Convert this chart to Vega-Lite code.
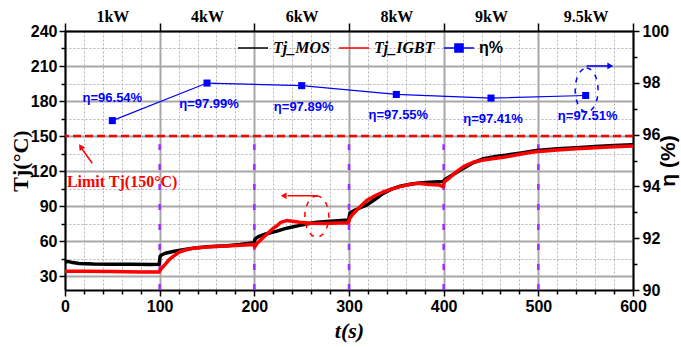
{
  "$schema": "https://vega.github.io/schema/vega-lite/v6.json",
  "width": 568,
  "height": 259,
  "autosize": {"type": "none"},
  "padding": {"left": 65, "top": 31, "right": 48, "bottom": 57},
  "background": "white",
  "config": {"view": {"stroke": null}},
  "datasets": {
    "temps": [
      {"t": 0, "s": "Tj_MOS", "v": 42}, {"t": 3, "s": "Tj_MOS", "v": 42.5}, {"t": 8, "s": "Tj_MOS", "v": 41.5}, {"t": 15, "s": "Tj_MOS", "v": 40.8}, {"t": 30, "s": "Tj_MOS", "v": 40.3}, {"t": 50, "s": "Tj_MOS", "v": 40}, {"t": 70, "s": "Tj_MOS", "v": 40}, {"t": 90, "s": "Tj_MOS", "v": 39.8}, {"t": 99.5, "s": "Tj_MOS", "v": 40},
      {"t": 100.5, "s": "Tj_MOS", "v": 47}, {"t": 102, "s": "Tj_MOS", "v": 48}, {"t": 106, "s": "Tj_MOS", "v": 49.5}, {"t": 114, "s": "Tj_MOS", "v": 51}, {"t": 125, "s": "Tj_MOS", "v": 52.5}, {"t": 135, "s": "Tj_MOS", "v": 53.7}, {"t": 150, "s": "Tj_MOS", "v": 55}, {"t": 171, "s": "Tj_MOS", "v": 56}, {"t": 185, "s": "Tj_MOS", "v": 57}, {"t": 199.5, "s": "Tj_MOS", "v": 58.5},
      {"t": 201, "s": "Tj_MOS", "v": 62}, {"t": 205, "s": "Tj_MOS", "v": 64}, {"t": 212, "s": "Tj_MOS", "v": 66}, {"t": 224, "s": "Tj_MOS", "v": 68.5}, {"t": 234, "s": "Tj_MOS", "v": 71}, {"t": 248, "s": "Tj_MOS", "v": 73.4}, {"t": 258, "s": "Tj_MOS", "v": 75}, {"t": 266, "s": "Tj_MOS", "v": 76}, {"t": 280, "s": "Tj_MOS", "v": 77}, {"t": 299.5, "s": "Tj_MOS", "v": 78},
      {"t": 301, "s": "Tj_MOS", "v": 84}, {"t": 305, "s": "Tj_MOS", "v": 86}, {"t": 312, "s": "Tj_MOS", "v": 88.5}, {"t": 319, "s": "Tj_MOS", "v": 91}, {"t": 328, "s": "Tj_MOS", "v": 96}, {"t": 336, "s": "Tj_MOS", "v": 100.8}, {"t": 345, "s": "Tj_MOS", "v": 104.5}, {"t": 354, "s": "Tj_MOS", "v": 107}, {"t": 363, "s": "Tj_MOS", "v": 108.5}, {"t": 372, "s": "Tj_MOS", "v": 109.5}, {"t": 385, "s": "Tj_MOS", "v": 110.3}, {"t": 399.5, "s": "Tj_MOS", "v": 111},
      {"t": 401, "s": "Tj_MOS", "v": 112.5}, {"t": 410, "s": "Tj_MOS", "v": 117}, {"t": 421, "s": "Tj_MOS", "v": 122.3}, {"t": 431, "s": "Tj_MOS", "v": 127}, {"t": 442, "s": "Tj_MOS", "v": 130.5}, {"t": 455, "s": "Tj_MOS", "v": 132.5}, {"t": 467, "s": "Tj_MOS", "v": 133.7}, {"t": 482, "s": "Tj_MOS", "v": 135.5}, {"t": 498, "s": "Tj_MOS", "v": 137.5}, {"t": 520, "s": "Tj_MOS", "v": 139}, {"t": 540, "s": "Tj_MOS", "v": 140}, {"t": 560, "s": "Tj_MOS", "v": 141}, {"t": 580, "s": "Tj_MOS", "v": 141.8}, {"t": 600, "s": "Tj_MOS", "v": 142.5},
      {"t": 0, "s": "Tj_IGBT", "v": 34}, {"t": 20, "s": "Tj_IGBT", "v": 34}, {"t": 50, "s": "Tj_IGBT", "v": 33.8}, {"t": 80, "s": "Tj_IGBT", "v": 33.5}, {"t": 99.5, "s": "Tj_IGBT", "v": 33.5},
      {"t": 100.5, "s": "Tj_IGBT", "v": 35}, {"t": 103, "s": "Tj_IGBT", "v": 37.5}, {"t": 107, "s": "Tj_IGBT", "v": 41}, {"t": 110, "s": "Tj_IGBT", "v": 44}, {"t": 114, "s": "Tj_IGBT", "v": 46.6}, {"t": 118, "s": "Tj_IGBT", "v": 49}, {"t": 121.5, "s": "Tj_IGBT", "v": 50.8}, {"t": 128, "s": "Tj_IGBT", "v": 52.5}, {"t": 135, "s": "Tj_IGBT", "v": 53.7}, {"t": 153, "s": "Tj_IGBT", "v": 55.1}, {"t": 171, "s": "Tj_IGBT", "v": 55.7}, {"t": 190, "s": "Tj_IGBT", "v": 56.5}, {"t": 199.5, "s": "Tj_IGBT", "v": 57},
      {"t": 200.5, "s": "Tj_IGBT", "v": 55}, {"t": 203, "s": "Tj_IGBT", "v": 58}, {"t": 208, "s": "Tj_IGBT", "v": 62}, {"t": 214, "s": "Tj_IGBT", "v": 66.5}, {"t": 220, "s": "Tj_IGBT", "v": 71}, {"t": 224, "s": "Tj_IGBT", "v": 73}, {"t": 228, "s": "Tj_IGBT", "v": 76}, {"t": 234, "s": "Tj_IGBT", "v": 77.5}, {"t": 240, "s": "Tj_IGBT", "v": 77}, {"t": 248, "s": "Tj_IGBT", "v": 76}, {"t": 260, "s": "Tj_IGBT", "v": 75.3}, {"t": 275, "s": "Tj_IGBT", "v": 75}, {"t": 290, "s": "Tj_IGBT", "v": 75.5}, {"t": 299.5, "s": "Tj_IGBT", "v": 75.5},
      {"t": 300.5, "s": "Tj_IGBT", "v": 79}, {"t": 304, "s": "Tj_IGBT", "v": 83}, {"t": 310, "s": "Tj_IGBT", "v": 88}, {"t": 319, "s": "Tj_IGBT", "v": 95}, {"t": 328, "s": "Tj_IGBT", "v": 99}, {"t": 336, "s": "Tj_IGBT", "v": 102}, {"t": 345, "s": "Tj_IGBT", "v": 104.5}, {"t": 354, "s": "Tj_IGBT", "v": 106.6}, {"t": 363, "s": "Tj_IGBT", "v": 108.3}, {"t": 372, "s": "Tj_IGBT", "v": 109.4}, {"t": 385, "s": "Tj_IGBT", "v": 108.5}, {"t": 395, "s": "Tj_IGBT", "v": 108}, {"t": 399.5, "s": "Tj_IGBT", "v": 106.5},
      {"t": 401, "s": "Tj_IGBT", "v": 111}, {"t": 406, "s": "Tj_IGBT", "v": 114}, {"t": 413, "s": "Tj_IGBT", "v": 119}, {"t": 421, "s": "Tj_IGBT", "v": 123.7}, {"t": 431, "s": "Tj_IGBT", "v": 127.5}, {"t": 442, "s": "Tj_IGBT", "v": 129.4}, {"t": 455, "s": "Tj_IGBT", "v": 131}, {"t": 467, "s": "Tj_IGBT", "v": 132.3}, {"t": 482, "s": "Tj_IGBT", "v": 134.5}, {"t": 498, "s": "Tj_IGBT", "v": 136.6}, {"t": 520, "s": "Tj_IGBT", "v": 138}, {"t": 540, "s": "Tj_IGBT", "v": 139}, {"t": 560, "s": "Tj_IGBT", "v": 140}, {"t": 580, "s": "Tj_IGBT", "v": 140.8}, {"t": 600, "s": "Tj_IGBT", "v": 141.5}
    ],
    "eta": [
      {"t": 50, "eta": 96.54, "label": "η=96.54%", "s": "η%"},
      {"t": 150, "eta": 97.99, "label": "η=97.99%", "s": "η%"},
      {"t": 250, "eta": 97.89, "label": "η=97.89%", "s": "η%"},
      {"t": 350, "eta": 97.55, "label": "η=97.55%", "s": "η%"},
      {"t": 450, "eta": 97.41, "label": "η=97.41%", "s": "η%"},
      {"t": 550, "eta": 97.51, "label": "η=97.51%", "s": "η%"}
    ],
    "steps": [{"t": 100}, {"t": 200}, {"t": 300}, {"t": 400}, {"t": 500}]
  },
  "layer": [
    {
      "data": {"name": "steps"},
      "mark": {"type": "rule", "color": "#9b30ff", "strokeWidth": 2.5, "strokeDash": [6, 14]},
      "encoding": {
        "x": {"field": "t", "type": "quantitative", "scale": {"domain": [0, 600], "nice": false, "zero": false},
          "axis": {"orient": "top", "title": null, "grid": false, "values": [0, 50, 100, 150, 200, 250, 300, 350, 400, 450, 500, 550, 600],
            "labelExpr": "datum.value == 50 ? '1kW' : datum.value == 150 ? '4kW' : datum.value == 250 ? '6kW' : datum.value == 350 ? '8kW' : datum.value == 450 ? '9kW' : datum.value == 550 ? '9.5kW' : ''",
            "tickOpacity": {"condition": {"test": "datum.value % 100 === 0", "value": 1}, "value": 0},
            "tickSize": 8, "tickWidth": 1.5, "tickColor": "black", "domainColor": "black", "domainWidth": 2,
            "labelPadding": -1, "labelFont": "Liberation Serif", "labelFontWeight": "bold", "labelFontSize": 16, "labelColor": "black", "labelFlush": false}},
        "y": {"datum": 18, "type": "quantitative", "scale": {"domain": [18, 240], "nice": false, "zero": false}, "axis": null},
        "y2": {"datum": 143}
      }
    },
    {
      "data": {"values": [{"v": 150}]},
      "mark": {"type": "rule", "color": "#ff0000", "strokeWidth": 2.5, "strokeDash": [8, 4]},
      "encoding": {
        "y": {"field": "v", "type": "quantitative", "scale": {"domain": [18, 240], "nice": false, "zero": false}, "axis": null}
      }
    },
    {
      "data": {"name": "temps"},
      "transform": [{"filter": "datum.s === 'Tj_MOS'"}],
      "mark": {"type": "line", "strokeWidth": 3.5, "strokeJoin": "round"},
      "encoding": {
        "x": {"field": "t", "type": "quantitative", "scale": {"domain": [0, 600], "nice": false, "zero": false},
          "axis": {"orient": "bottom", "title": "t(s)", "values": [0, 20, 40, 60, 80, 100, 120, 140, 160, 180, 200, 220, 240, 260, 280, 300, 320, 340, 360, 380, 400, 420, 440, 460, 480, 500, 520, 540, 560, 580, 600],
            "labelExpr": "datum.value % 100 === 0 ? datum.label : ''",
            "grid": true,
            "gridColor": {"condition": {"test": "datum.value % 100 === 0", "value": "#a8a8a8"}, "value": "#b4b4b4"},
            "gridDash": {"condition": {"test": "datum.value % 100 === 0", "value": []}, "value": [2, 2]},
            "gridWidth": {"condition": {"test": "datum.value % 100 === 0", "value": 2}, "value": 1},
            "tickSize": {"condition": {"test": "datum.value % 100 === 0", "value": 6}, "value": 4},
            "tickColor": "black", "tickWidth": 1.5, "domainColor": "black", "domainWidth": 2,
            "labelFont": "Liberation Sans", "labelFontWeight": "bold", "labelFontSize": 16, "labelColor": "black", "labelPadding": 2, "labelFlush": false,
            "titleFont": "Liberation Serif", "titleFontWeight": "bold", "titleFontStyle": "italic", "titleFontSize": 22, "titleColor": "black", "titlePadding": 6}},
        "y": {"field": "v", "type": "quantitative", "scale": {"domain": [18, 240], "nice": false, "zero": false},
          "axis": {"orient": "left", "title": "Tj(°C)", "values": [30, 45, 60, 75, 90, 105, 120, 135, 150, 165, 180, 195, 210, 225, 240],
            "labelExpr": "datum.value % 30 === 0 ? datum.label : ''",
            "grid": true,
            "gridColor": {"condition": {"test": "datum.value % 30 === 0", "value": "#a8a8a8"}, "value": "#b4b4b4"},
            "gridDash": {"condition": {"test": "datum.value % 30 === 0", "value": []}, "value": [2, 2]},
            "gridWidth": {"condition": {"test": "datum.value % 30 === 0", "value": 2}, "value": 1},
            "tickSize": {"condition": {"test": "datum.value % 30 === 0", "value": 6}, "value": 4},
            "tickColor": "black", "tickWidth": 1.5, "domainColor": "black", "domainWidth": 2,
            "labelFont": "Liberation Sans", "labelFontWeight": "bold", "labelFontSize": 16, "labelColor": "black", "labelPadding": 2, "labelFlush": false,
            "titleFont": "Liberation Serif", "titleFontWeight": "bold", "titleFontSize": 22, "titleColor": "black", "titleX": -45, "titleBaseline": "middle"}},
        "color": {"field": "s", "type": "nominal",
          "scale": {"domain": ["Tj_MOS", "Tj_IGBT", "η%"], "range": ["#000000", "#ff0000", "#0000ff"]},
          "legend": {"orient": "none", "legendX": 172, "legendY": 1, "direction": "horizontal", "title": null, "padding": 0,
            "columnPadding": 6, "labelOffset": 4, "symbolSize": 900, "labelFontSize": 16, "labelColor": "black",
            "encode": {
              "symbols": {"update": {
                "shape": {"signal": "datum.value === 'η%' ? 'M-1,0H1M-0.27,-0.27H0.27V0.27H-0.27Z' : 'M-1,0H1'"},
                "fill": {"signal": "datum.value === 'η%' ? '#0000ff' : 'transparent'"},
                "stroke": {"signal": "datum.value === 'η%' ? '#0000ff' : datum.value === 'Tj_IGBT' ? '#ff0000' : '#000000'"},
                "strokeWidth": {"value": 1.5},
                "opacity": {"value": 1}}},
              "labels": {"update": {
                "font": {"signal": "datum.value === 'η%' ? 'Liberation Sans' : 'Liberation Serif'"},
                "fontStyle": {"signal": "datum.value === 'η%' ? 'normal' : 'italic'"},
                "fontWeight": {"value": "bold"}}}
            }}}
      }
    },
    {
      "data": {"name": "temps"},
      "transform": [{"filter": "datum.s === 'Tj_IGBT'"}],
      "mark": {"type": "line", "strokeWidth": 3.5, "strokeJoin": "round"},
      "encoding": {
        "x": {"field": "t", "type": "quantitative", "scale": {"domain": [0, 600], "nice": false, "zero": false}, "axis": null},
        "y": {"field": "v", "type": "quantitative", "scale": {"domain": [18, 240], "nice": false, "zero": false}, "axis": null},
        "color": {"field": "s", "type": "nominal", "scale": {"domain": ["Tj_MOS", "Tj_IGBT", "η%"], "range": ["#000000", "#ff0000", "#0000ff"]}}
      }
    },
    {
      "data": {"name": "eta"},
      "mark": {"type": "line", "strokeWidth": 1.2, "point": {"shape": "square", "filled": true, "size": 50}},
      "encoding": {
        "x": {"field": "t", "type": "quantitative", "scale": {"domain": [0, 600], "nice": false, "zero": false}, "axis": null},
        "y": {"field": "eta", "type": "quantitative", "scale": {"domain": [90, 100], "nice": false, "zero": false},
          "axis": {"orient": "right", "title": "η (%)", "values": [90, 91, 92, 93, 94, 95, 96, 97, 98, 99, 100],
            "labelExpr": "datum.value % 2 === 0 ? datum.label : ''", "grid": false,
            "tickSize": {"condition": {"test": "datum.value % 2 === 0", "value": 6}, "value": 4},
            "tickColor": "black", "tickWidth": 1.5, "domainColor": "black", "domainWidth": 2,
            "labelFont": "Liberation Sans", "labelFontWeight": "bold", "labelFontSize": 16, "labelColor": "black", "labelPadding": 3, "labelFlush": false,
            "titleFont": "Liberation Sans", "titleFontWeight": "bold", "titleFontSize": 21, "titleColor": "black", "titleAngle": -90, "titleX": 35, "titleBaseline": "middle"}},
        "color": {"field": "s", "type": "nominal", "scale": {"domain": ["Tj_MOS", "Tj_IGBT", "η%"], "range": ["#000000", "#ff0000", "#0000ff"]}}
      }
    },
    {
      "data": {"name": "eta"},
      "transform": [{"filter": "datum.t === 50"}],
      "mark": {"type": "text", "color": "#0000ff", "font": "Liberation Sans", "fontWeight": "bold", "fontSize": 13, "dy": -23},
      "encoding": {
        "x": {"field": "t", "type": "quantitative", "scale": {"domain": [0, 600], "nice": false, "zero": false}, "axis": null},
        "y": {"field": "eta", "type": "quantitative", "scale": {"domain": [90, 100], "nice": false, "zero": false}, "axis": null},
        "text": {"field": "label"}
      }
    },
    {
      "data": {"name": "eta"},
      "transform": [{"filter": "datum.t !== 50"}],
      "mark": {"type": "text", "color": "#0000ff", "font": "Liberation Sans", "fontWeight": "bold", "fontSize": 13, "dy": 21, "dx": 2},
      "encoding": {
        "x": {"field": "t", "type": "quantitative", "scale": {"domain": [0, 600], "nice": false, "zero": false}, "axis": null},
        "y": {"field": "eta", "type": "quantitative", "scale": {"domain": [90, 100], "nice": false, "zero": false}, "axis": null},
        "text": {"field": "label"}
      }
    },
    {
      "data": {"values": [{"t": 2, "v": 110.8, "txt": "Limit Tj(150°C)"}]},
      "mark": {"type": "text", "color": "#ff0000", "font": "Liberation Serif", "fontWeight": "bold", "fontSize": 16, "align": "left"},
      "encoding": {
        "x": {"field": "t", "type": "quantitative", "scale": {"domain": [0, 600], "nice": false, "zero": false}, "axis": null},
        "y": {"field": "v", "type": "quantitative", "scale": {"domain": [18, 240], "nice": false, "zero": false}, "axis": null},
        "text": {"field": "txt"}
      }
    },
    {
      "data": {"values": [{"t1": 28.8, "v1": 126.6, "t2": 17.5, "v2": 139.5}, {"t1": 267, "v1": 98.8, "t2": 235, "v2": 98.8}]},
      "mark": {"type": "rule", "color": "#ff0000", "strokeWidth": 1.5},
      "encoding": {
        "x": {"field": "t1", "type": "quantitative", "scale": {"domain": [0, 600], "nice": false, "zero": false}, "axis": null},
        "y": {"field": "v1", "type": "quantitative", "scale": {"domain": [18, 240], "nice": false, "zero": false}, "axis": null},
        "x2": {"field": "t2"},
        "y2": {"field": "v2"}
      }
    },
    {
      "data": {"values": [{"t": 16.6, "v": 140.8, "a": 325, "sh": "triangle-up"}, {"t": 231, "v": 98.8, "a": 0, "sh": "triangle-left"}]},
      "mark": {"type": "point", "filled": true, "color": "#ff0000", "size": 45, "opacity": 1},
      "encoding": {
        "x": {"field": "t", "type": "quantitative", "scale": {"domain": [0, 600], "nice": false, "zero": false}, "axis": null},
        "y": {"field": "v", "type": "quantitative", "scale": {"domain": [18, 240], "nice": false, "zero": false}, "axis": null},
        "angle": {"field": "a", "type": "quantitative", "scale": null},
        "shape": {"field": "sh", "type": "nominal", "scale": null}
      }
    },
    {
      "data": {"values": [{"t": 266, "v": 81}]},
      "mark": {"type": "point", "shape": "M0,-1A0.585,1 0 1,1 0,1A0.585,1 0 1,1 0,-1Z", "filled": false, "color": "#ff0000", "size": 1681, "strokeWidth": 1.5, "strokeDash": [5, 6], "opacity": 1},
      "encoding": {
        "x": {"field": "t", "type": "quantitative", "scale": {"domain": [0, 600], "nice": false, "zero": false}, "axis": null},
        "y": {"field": "v", "type": "quantitative", "scale": {"domain": [18, 240], "nice": false, "zero": false}, "axis": null}
      }
    },
    {
      "data": {"values": [{"t": 551, "e": 97.72}]},
      "mark": {"type": "point", "shape": "M0,-1A0.52,1 0 1,1 0,1A0.52,1 0 1,1 0,-1Z", "filled": false, "color": "#0000ff", "size": 1936, "strokeWidth": 1.5, "strokeDash": [5, 6], "opacity": 1},
      "encoding": {
        "x": {"field": "t", "type": "quantitative", "scale": {"domain": [0, 600], "nice": false, "zero": false}, "axis": null},
        "y": {"field": "e", "type": "quantitative", "scale": {"domain": [90, 100], "nice": false, "zero": false}, "axis": null}
      }
    },
    {
      "data": {"values": [{"t1": 551, "e1": 98.65, "t2": 574, "e2": 98.65}]},
      "mark": {"type": "rule", "color": "#0000ff", "strokeWidth": 1.5},
      "encoding": {
        "x": {"field": "t1", "type": "quantitative", "scale": {"domain": [0, 600], "nice": false, "zero": false}, "axis": null},
        "y": {"field": "e1", "type": "quantitative", "scale": {"domain": [90, 100], "nice": false, "zero": false}, "axis": null},
        "x2": {"field": "t2"},
        "y2": {"field": "e2"}
      }
    },
    {
      "data": {"values": [{"t": 576, "e": 98.65}]},
      "mark": {"type": "point", "shape": "triangle-right", "filled": true, "color": "#0000ff", "size": 45, "opacity": 1},
      "encoding": {
        "x": {"field": "t", "type": "quantitative", "scale": {"domain": [0, 600], "nice": false, "zero": false}, "axis": null},
        "y": {"field": "e", "type": "quantitative", "scale": {"domain": [90, 100], "nice": false, "zero": false}, "axis": null}
      }
    }
  ],
  "resolve": {"scale": {"y": "independent"}, "axis": {"x": "independent", "y": "independent"}}
}
